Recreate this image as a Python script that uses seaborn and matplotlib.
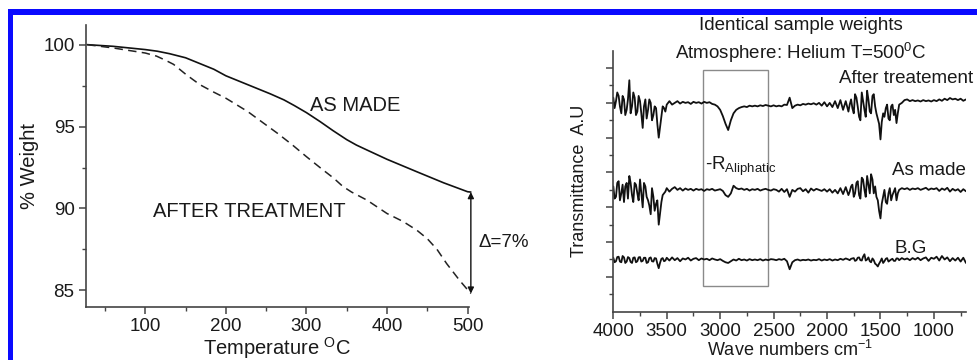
import numpy as np
import pandas as pd
import matplotlib
matplotlib.use('Agg')
import matplotlib.pyplot as plt
from matplotlib.patches import Rectangle
import seaborn as sns


'''
    TGA data (left panel)
'''

temp_made = [28, 60, 100, 115, 130, 150, 165, 185, 200, 220, 235, 255, 272, 285, 300, 317, 333,
             350, 362, 375, 400, 437, 470, 500, 504]
weight_made = [100.0, 99.9, 99.7, 99.6, 99.45, 99.2, 98.9, 98.5, 98.1, 97.7, 97.4, 97.0, 96.63,
               96.28, 95.85, 95.3, 94.75, 94.2, 93.87, 93.57, 93.0, 92.24, 91.57, 91.02, 91.0]

temp_treated = [28, 60, 100, 114, 125, 135, 151, 168, 185, 200, 227, 247, 264, 282, 300, 318,
                334, 345, 356, 375, 400, 420, 437, 450, 462, 474, 490, 504]
weight_treated = [100.0, 99.8, 99.49, 99.3, 99.05, 98.8, 98.16, 97.55, 97.1, 96.73, 95.92, 95.2,
                  94.59, 93.9, 93.16, 92.45, 91.84, 91.35, 91.0, 90.51, 89.69, 89.2, 88.67,
                  88.15, 87.5, 86.63, 85.61, 84.8]


'''
    FTIR data (right panel), offsets from each trace's baseline
'''

wavenumbers = [
    4000, 3975, 3950, 3925, 3900, 3875, 3850, 3825, 3800, 3775,
    3750, 3725, 3700, 3675, 3650, 3625, 3600, 3575, 3550, 3525,
    3500, 3475, 3450, 3425, 3400, 3375, 3350, 3325, 3300, 3275,
    3250, 3225, 3200, 3175, 3150, 3125, 3100, 3075, 3050, 3025,
    3000, 2975, 2950, 2925, 2900, 2875, 2850, 2825, 2800, 2775,
    2750, 2725, 2700, 2675, 2650, 2625, 2600, 2575, 2550, 2525,
    2500, 2475, 2450, 2425, 2400, 2375, 2350, 2325, 2300, 2275,
    2250, 2225, 2200, 2175, 2150, 2125, 2100, 2075, 2050, 2025,
    2000, 1975, 1950, 1925, 1900, 1875, 1850, 1825, 1800, 1775,
    1750, 1725, 1700, 1675, 1650, 1625, 1600, 1575, 1550, 1525,
    1500, 1475, 1450, 1425, 1400, 1375, 1350, 1325, 1300, 1275,
    1250, 1225, 1200, 1175, 1150, 1125, 1100, 1075, 1050, 1025,
    1000, 975, 950, 925, 900, 875, 850, 825, 800, 775,
    750, 725, 700]

after_treat = [
    0.15, 0.05, 0.2, -0.3, 0.1, -0.2, 0.65, -0.1, 0.15, -0.25,
    0.05, -0.72, 0.1, -0.2, 0.0, -0.35, -0.15, -1.0, -0.4, -0.15,
    -0.05, 0.05, -0.05, 0.0, 0.05, -0.02, 0.03, 0.0, 0.02, -0.03,
    0.03, 0.0, 0.02, -0.02, 0.03, 0.0, 0.02, -0.03, -0.05, -0.1,
    -0.2, -0.38, -0.6, -0.78, -0.5, -0.3, -0.2, -0.15, -0.12, -0.1,
    -0.12, -0.08, -0.1, -0.08, -0.1, -0.07, -0.09, -0.06, -0.08, -0.1,
    -0.07, -0.1, -0.08, -0.1, -0.05, -0.06, 0.15, -0.15, -0.08, -0.05,
    -0.07, -0.03, -0.05, -0.02, -0.04, -0.01, -0.05, 0.0, -0.08, 0.02,
    -0.1, 0.0, -0.12, 0.05, -0.15, 0.08, -0.2, 0.05, -0.25, 0.1,
    -0.3, 0.15, -0.4, 0.3, -0.2, 0.35, -0.25, 0.2, -0.1, -0.45,
    -1.05, -0.3, -0.15, -0.45, -0.1, -0.35, -0.58, -0.05, 0.0, 0.08,
    0.1, 0.05, 0.08, 0.05, 0.07, 0.04, 0.08, 0.05, 0.07, 0.04,
    0.08, 0.05, 0.1, 0.06, 0.12, 0.08, 0.14, 0.1, 0.12, 0.08,
    0.12, 0.06, 0.1]

as_made = [
    0.1, -0.2, 0.25, -0.1, -0.35, 0.2, 0.4, -0.15, 0.2, -0.1,
    0.3, -0.5, 0.1, -0.3, -0.7, -0.2, -0.4, -1.0, -0.35, -0.1,
    0.05, -0.05, 0.03, 0.08, 0.0, 0.05, -0.02, 0.04, 0.0, 0.03,
    -0.02, 0.03, 0.0, 0.02, -0.03, 0.02, 0.0, 0.03, -0.02, 0.0,
    0.02, -0.03, -0.15, -0.2, -0.1, 0.12, 0.05, 0.02, 0.04, 0.0,
    0.03, -0.02, 0.02, 0.0, 0.03, -0.02, 0.01, 0.03, 0.0, -0.02,
    0.02, 0.0, -0.05, 0.03, -0.06, 0.02, -0.2, 0.0, -0.05, 0.03,
    0.05, -0.04, 0.02, -0.08, 0.04, -0.02, 0.03, 0.0, -0.03, 0.02,
    -0.05, 0.02, -0.08, 0.0, -0.1, 0.05, -0.12, 0.08, -0.15, 0.1,
    -0.2, 0.2, -0.15, 0.35, 0.0, 0.4, -0.1, 0.3, 0.1, -0.3,
    -0.82, -0.2, -0.35, -0.1, -0.3, -0.05, -0.3, 0.0, 0.05, 0.02,
    0.05, 0.0, 0.04, 0.02, 0.05, 0.0, 0.03, 0.06, 0.0, 0.04,
    0.02, 0.05, -0.03, 0.04, 0.0, 0.06, -0.05, 0.03, -0.02, 0.02,
    -0.06, 0.02, -0.04]

background = [
    0.05, -0.05, 0.08, -0.08, 0.06, -0.06, 0.04, -0.1, 0.06, -0.05,
    0.07, -0.04, 0.05, -0.08, 0.06, -0.06, 0.03, -0.25, 0.02, -0.05,
    0.05, -0.03, 0.06, -0.02, 0.04, -0.05, 0.03, 0.0, 0.05, -0.03,
    0.02, 0.04, -0.02, 0.03, 0.0, 0.02, -0.02, 0.03, 0.0, -0.02,
    0.01, -0.04, -0.08, -0.1, -0.05, 0.0, -0.03, 0.02, -0.02, 0.0,
    -0.03, 0.01, -0.02, 0.0, -0.02, 0.01, -0.03, 0.0, -0.02, 0.01,
    0.0, -0.02, 0.01, -0.01, 0.02, -0.05, -0.28, -0.08, -0.02, 0.0,
    -0.03, -0.01, -0.02, 0.0, -0.03, -0.01, -0.02, 0.01, -0.03, 0.0,
    -0.02, 0.01, -0.03, 0.0, -0.02, 0.02, -0.01, 0.03, 0.0, 0.02,
    0.04, -0.02, 0.06, -0.03, 0.15, 0.0, -0.05, 0.03, -0.12, -0.2,
    -0.05, -0.1, 0.02, -0.06, 0.0, -0.04, 0.03, -0.02, 0.04, 0.0,
    0.03, -0.02, 0.04, 0.0, 0.05, -0.02, 0.03, 0.06, -0.04, 0.05,
    0.02, 0.08, -0.03, 0.1, 0.0, 0.06, -0.05, 0.04, -0.03, 0.05,
    -0.06, 0.05, -0.1]

# extra readings in the two noisy bands (O-H region and 1800-1325)
wavenumbers_extra = [
    3988, 3963, 3938, 3913, 3888, 3863, 3838, 3813, 3788, 3763,
    3738, 3713, 3688, 3663, 3638, 3613, 3588, 3563, 3538, 3513,
    1788, 1763, 1738, 1713, 1688, 1663, 1638, 1613, 1588, 1563,
    1538, 1513, 1488, 1463, 1438, 1413, 1388, 1363, 1338]

after_treat_extra = [
    -0.15, 0.3, -0.1, 0.2, -0.35, 0.1, -0.3, 0.3, -0.35, 0.2,
    -0.3, -0.1, -0.45, 0.1, -0.5, -0.1, -0.6, -0.75, -0.1, -0.25,
    -0.05, -0.15, 0.25, -0.1, -0.5, 0.05, -0.4, 0.1, -0.3, 0.25,
    -0.3, -0.6, -0.55, -0.4, -0.05, -0.5, -0.05, -0.2, -0.3]

as_made_extra = [
    -0.25, 0.2, -0.3, 0.15, 0.1, -0.25, 0.2, -0.35, 0.15, -0.3,
    -0.1, 0.2, -0.2, -0.45, 0.05, -0.6, -0.3, -0.7, -0.15, -0.05,
    -0.05, 0.15, -0.1, 0.25, -0.25, 0.3, -0.2, 0.15, 0.45, -0.1,
    -0.2, -0.6, -0.4, 0.0, -0.4, 0.05, -0.15, 0.05, -0.1]

background_extra = [
    -0.08, 0.07, -0.06, 0.1, -0.1, 0.07, -0.07, 0.05, -0.08, 0.06,
    -0.06, 0.05, -0.1, 0.04, -0.05, 0.04, -0.12, -0.1, 0.04, -0.03,
    -0.02, 0.03, -0.04, 0.05, -0.02, 0.08, -0.03, 0.06, -0.08, -0.02,
    -0.15, -0.12, 0.03, -0.05, 0.04, -0.03, 0.02, -0.04, 0.03]

# vertical stacking of the three spectra
baselines = {'After treatement': 6.0, 'As made': 3.5, 'B.G': 1.5}


sns.set_style('ticks')
plt.rcParams['font.family'] = ['Liberation Sans', 'DejaVu Sans']
plt.rcParams['mathtext.fontset'] = 'custom'
plt.rcParams['mathtext.rm'] = 'Liberation Sans'
plt.rcParams['mathtext.it'] = 'Liberation Sans'

fig = plt.figure(figsize=(9.78, 3.6), dpi=100)
spine_col = '#444444'
txt_col = '#1a1a1a'

# blue frame on top and left
fig.add_artist(Rectangle((0.0082, 0.9583), 0.9918, 0.0167, transform=fig.transFigure,
                         color='#0a0aff', lw=0))
fig.add_artist(Rectangle((0.0082, 0.0), 0.0055, 0.975, transform=fig.transFigure,
                         color='#0a0aff', lw=0))


'''
    Left: TGA
'''

ax1 = fig.add_axes([0.0876, 0.148, 0.3922, 0.7825])
tga_made = pd.DataFrame({'T': temp_made, 'W': weight_made})
tga_treat = pd.DataFrame({'T': temp_treated, 'W': weight_treated})
sns.lineplot(data=tga_made, x='T', y='W', ax=ax1, color='#111111', lw=1.2,
             estimator=None, clip_on=False)
sns.lineplot(data=tga_treat, x='T', y='W', ax=ax1, color='#222222', lw=1.1,
             linestyle=(0, (5.5, 3.5)), estimator=None, clip_on=False)

ax1.set_xlim(26, 502)
ax1.set_ylim(84, 101.2)
ax1.set_xticks([100, 200, 300, 400, 500])
ax1.set_xticks([50, 150, 250, 350, 450], minor=True)
ax1.set_yticks([85, 90, 95, 100])
ax1.set_yticks([87.5, 92.5, 97.5], minor=True)
ax1.set_xlabel('Temperature $^{\\mathregular{O}}$C', fontsize=14.5, labelpad=0, color=txt_col)
ax1.set_ylabel('% Weight', fontsize=14.5, labelpad=3, color=txt_col)

ax1.text(304, 96.3, 'AS MADE', fontsize=14.5, va='center', color=txt_col)
ax1.text(110, 89.8, 'AFTER TREATMENT', fontsize=14.5, va='center', color=txt_col)
ax1.annotate('', xy=(504, 84.8), xytext=(504, 91.0), annotation_clip=False,
             arrowprops=dict(arrowstyle='<|-|>', color='#111111', lw=1.0,
                             mutation_scale=9, shrinkA=0, shrinkB=0))
ax1.text(513, 87.9, '\u0394=7%', fontsize=13.5, va='center', color=txt_col)


'''
    Right: FTIR
'''

ax2 = fig.add_axes([0.6271, 0.1342, 0.3606, 0.725])
series = [('After treatement', after_treat, after_treat_extra),
          ('As made', as_made, as_made_extra),
          ('B.G', background, background_extra)]
for name, offs, offs_extra in series:
    spec = pd.DataFrame({'wn': wavenumbers + wavenumbers_extra, 'tr': offs + offs_extra})
    spec['tr'] = spec['tr'] + baselines[name]
    sns.lineplot(data=spec, x='wn', y='tr', ax=ax2, color='#111111', lw=1.3,
                 estimator=None, sort=True)

ax2.add_patch(Rectangle((3160, 0.74), 2550 - 3160, 6.94 - 0.74, fill=False,
                        edgecolor='#8a8a8a', lw=1.0))

ax2.set_xlim(4000, 700)
ax2.set_ylim(0, 7.5)
ax2.set_xticks([4000, 3500, 3000, 2500, 2000, 1500, 1000])
ax2.set_xticks([3750, 3250, 2750, 2250, 1750, 1250, 750], minor=True)
ax2.set_yticks([1, 2, 3, 4, 5, 6, 7])
ax2.set_yticks([0.5, 1.5, 2.5, 3.5, 4.5, 5.5, 6.5], minor=True)
ax2.set_yticklabels([])
ax2.set_xlabel('Wave numbers cm$^{\\mathregular{-1}}$', fontsize=13, labelpad=0, color=txt_col)
ax2.set_ylabel('Transmittance  A.U', fontsize=13, labelpad=10, color=txt_col)

ax2.text(629, 6.69, 'After treatement', fontsize=13.5, ha='right', va='center', color=txt_col)
ax2.text(705, 4.07, 'As made', fontsize=13.5, ha='right', va='center', color=txt_col)
ax2.text(1219, 1.83, 'B.G', fontsize=13.5, ha='center', va='center', color=txt_col)
ax2.text(3141, 4.07, '-R$_{\\mathregular{Aliphatic}}$', fontsize=13.5, ha='left',
         va='baseline', color=txt_col)
ax2.text(2248, 8.21, 'Identical sample weights', fontsize=13.5, ha='center', va='center',
         color=txt_col)
ax2.text(2248, 7.43, 'Atmosphere: Helium T=500$^{\\mathregular{0}}$C', fontsize=13.5,
         ha='center', va='center', color=txt_col)

for ax in (ax1, ax2):
    sns.despine(ax=ax)
    for s in ('left', 'bottom'):
        ax.spines[s].set_color(spine_col)
        ax.spines[s].set_linewidth(1.2)
    ax.tick_params(which='major', direction='out', length=5, width=1.1, color=spine_col,
                   labelsize=13.5, labelcolor=txt_col, pad=3)
    ax.tick_params(which='minor', direction='out', length=3, width=1.0, color=spine_col)
    ax.set_facecolor('white')

fig.savefig('out.png', dpi=100, facecolor='white')
